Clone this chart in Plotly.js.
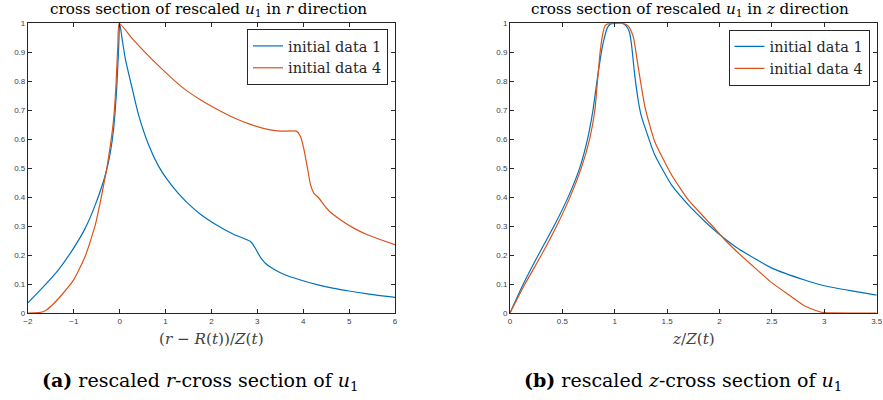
<!DOCTYPE html>
<html>
<head>
<meta charset="utf-8">
<script src="https://cdn.plot.ly/plotly-3.0.1.min.js"></script>
<style>html,body{margin:0;padding:0;background:#fff;}#plot{width:883px;height:400px;}</style>
</head>
<body>
<div id="plot"></div>
<script>
// ---- data: r-direction cross section ----
var r_x1 = [-2, -1.62, -1.33, -1.0, -0.75, -0.53, -0.31, -0.20, -0.13, -0.06, -0.02, 0, 0.05, 0.12, 0.27, 0.41, 0.63, 0.85, 1.03, 1.25, 1.47, 1.76, 2.12, 2.48, 2.85, 2.90, 2.95, 3.02, 3.10, 3.20, 3.36, 3.60, 3.94, 4.30, 4.67, 5.00, 5.40, 6.00];
var r_y1 = [0.035, 0.098, 0.150, 0.225, 0.293, 0.374, 0.478, 0.558, 0.639, 0.788, 0.926, 1.0, 0.95, 0.88, 0.777, 0.685, 0.581, 0.506, 0.462, 0.418, 0.381, 0.341, 0.303, 0.272, 0.247, 0.238, 0.225, 0.205, 0.185, 0.168, 0.151, 0.132, 0.114, 0.098, 0.085, 0.076, 0.066, 0.054];
var r_x4 = [-2, -1.77, -1.62, -1.48, -1.26, -1.0, -0.75, -0.53, -0.39, -0.28, -0.20, -0.13, -0.08, -0.04, -0.01, 0.27, 0.56, 0.85, 1.14, 1.43, 1.75, 2.10, 2.50, 2.85, 3.20, 3.50, 3.86, 3.94, 4.01, 4.08, 4.16, 4.23, 4.34, 4.45, 4.56, 4.81, 5.10, 5.40, 5.69, 6.00];
var r_y4 = [0, 0.001, 0.008, 0.026, 0.063, 0.115, 0.196, 0.305, 0.409, 0.500, 0.581, 0.673, 0.788, 0.926, 1.0, 0.948, 0.899, 0.853, 0.810, 0.771, 0.737, 0.705, 0.673, 0.651, 0.635, 0.628, 0.627, 0.609, 0.569, 0.511, 0.442, 0.414, 0.397, 0.373, 0.353, 0.322, 0.293, 0.270, 0.253, 0.236];
// ---- data: z-direction cross section ----
var z_x1 = [0, 0.127, 0.27, 0.42, 0.555, 0.665, 0.74, 0.792, 0.83, 0.872, 0.90, 0.93, 0.96, 1.0, 1.07, 1.11, 1.14, 1.16, 1.19, 1.225, 1.25, 1.29, 1.38, 1.54, 1.70, 1.86, 2.02, 2.18, 2.50, 2.82, 3.00, 3.25, 3.50];
var z_y1 = [0, 0.1, 0.2, 0.3, 0.4, 0.5, 0.6, 0.7, 0.8, 0.9, 0.949, 0.985, 0.998, 1.0, 1.0, 0.99, 0.97, 0.926, 0.823, 0.731, 0.685, 0.639, 0.547, 0.443, 0.374, 0.316, 0.265, 0.222, 0.155, 0.113, 0.094, 0.077, 0.062];
var z_x4 = [0, 0.143, 0.30, 0.445, 0.573, 0.68, 0.76, 0.81, 0.835, 0.86, 0.89, 0.91, 0.95, 1.08, 1.13, 1.16, 1.18, 1.225, 1.29, 1.38, 1.54, 1.70, 1.86, 1.925, 2.05, 2.18, 2.34, 2.50, 2.66, 2.82, 2.94, 3.00, 3.50];
var z_y4 = [0, 0.1, 0.2, 0.3, 0.4, 0.5, 0.6, 0.7, 0.8, 0.9, 0.972, 0.993, 1.0, 1.0, 0.99, 0.97, 0.949, 0.846, 0.708, 0.593, 0.478, 0.391, 0.328, 0.303, 0.253, 0.207, 0.155, 0.104, 0.063, 0.023, 0.006, 0.001, 0];

var seriesNames = ['initial data 1', 'initial data 4'];
var seriesColors = ['#0072BD', '#D95319'];

var serif = 'DejaVu Serif, serif';
var sans = 'Liberation Sans, Arial, sans-serif';

function line(x, y, i, xa, ya, leg) {
  return {x: x, y: y, type: 'scatter', mode: 'lines', name: seriesNames[i],
    xaxis: xa, yaxis: ya, legend: leg,
    line: {color: seriesColors[i], width: 1.2, shape: 'spline', smoothing: 0.5}};
}

var traces = [
  line(r_x1, r_y1, 0, 'x', 'y', 'legend'),
  line(r_x4, r_y4, 1, 'x', 'y', 'legend'),
  line(z_x1, z_y1, 0, 'x2', 'y2', 'legend2'),
  line(z_x4, z_y4, 1, 'x2', 'y2', 'legend2')
];

function axis(extra) {
  var a = {showline: true, linecolor: '#262626', linewidth: 1, mirror: 'ticks',
    ticks: 'inside', ticklen: 4, tickcolor: '#262626', tickwidth: 1,
    showgrid: false, zeroline: false, fixedrange: true,
    tickfont: {family: sans, size: 8, color: '#404040'}};
  for (var k in extra) a[k] = extra[k];
  return a;
}

var W = 883, H = 400;
var L1 = 27.9 / W, R1 = 395 / W, L2 = 510 / W, R2 = 876.7 / W;
var B = (H - 313) / H, T = (H - 23.3) / H;

var legendBase = {bgcolor: '#fff', bordercolor: '#262626', borderwidth: 1,
  font: {family: serif, size: 14.5, color: '#262626'}, xanchor: 'right', yanchor: 'top'};
var legend1 = Object.assign({}, legendBase, {x: 388 / W, y: (H - 29) / H});
var legend2 = Object.assign({}, legendBase, {x: 869.5 / W, y: (H - 29.5) / H});

function note(text, xpx, ypx, size, color) {
  return {text: text, x: xpx / W, y: (H - ypx) / H, xref: 'paper', yref: 'paper',
    showarrow: false, xanchor: 'center', yanchor: 'middle',
    font: {family: serif, size: size, color: color}};
}

var titleText1 = 'cross section of rescaled <i>u</i><sub>1</sub> in <i>r</i> direction';
var titleText2 = 'cross section of rescaled <i>u</i><sub>1</sub> in <i>z</i> direction';
var xlabel1 = '(<i>r</i> \u2212 <i>R</i>(<i>t</i>))/<i>Z</i>(<i>t</i>)';
var xlabel2 = '<i>z</i>/<i>Z</i>(<i>t</i>)';
var caption1 = '<b>(a)</b> rescaled <i>r</i>-cross section of <i>u</i><sub>1</sub>';
var caption2 = '<b>(b)</b> rescaled <i>z</i>-cross section of <i>u</i><sub>1</sub>';

var layout = {
  width: W, height: H,
  margin: {l: 0, r: 0, t: 0, b: 0},
  paper_bgcolor: '#fff', plot_bgcolor: '#fff',
  showlegend: true,
  legend: legend1,
  legend2: legend2,
  xaxis: axis({domain: [L1, R1], range: [-2, 6], dtick: 1, tick0: 0, anchor: 'y'}),
  yaxis: axis({domain: [B, T], range: [0, 1], dtick: 0.1, tick0: 0, anchor: 'x'}),
  xaxis2: axis({domain: [L2, R2], range: [0, 3.5], dtick: 0.5, tick0: 0, anchor: 'y2'}),
  yaxis2: axis({domain: [B, T], range: [0, 1], dtick: 0.1, tick0: 0, anchor: 'x2'}),
  annotations: [
    note(titleText1, 208, 10.5, 15.2, '#000'),
    note(titleText2, 690, 10.5, 15.2, '#000'),
    note(xlabel1, 211.5, 339, 15.2, '#404040'),
    note(xlabel2, 693.3, 339, 15.2, '#404040'),
    note(caption1, 200, 381, 19, '#000'),
    note(caption2, 683, 381, 19, '#000')
  ]
};

Plotly.newPlot('plot', traces, layout, {displayModeBar: false, staticPlot: true});
</script>
</body>
</html>
